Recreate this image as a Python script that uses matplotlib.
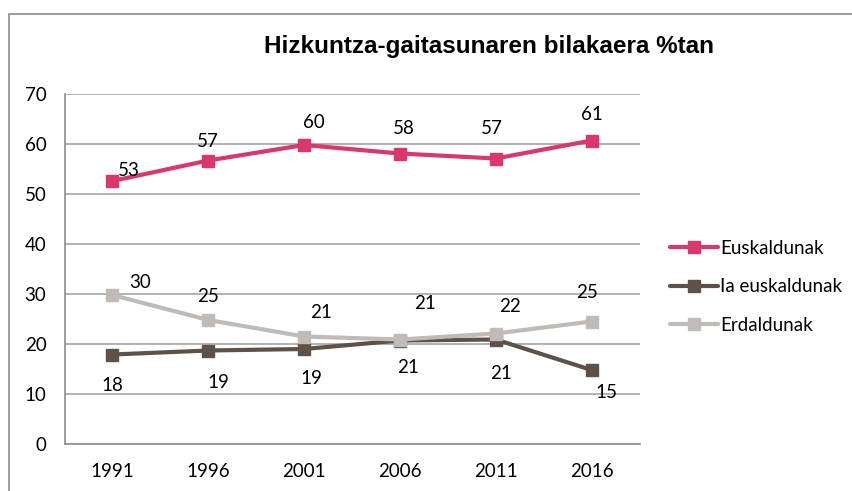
import matplotlib
matplotlib.use("Agg")
import matplotlib.pyplot as plt
from matplotlib.patches import Rectangle

plt.rcParams['font.family'] = ['Lato', 'DejaVu Sans']

# datuak
urteak = ["1991", "1996", "2001", "2006", "2011", "2016"]
euskaldunak = [52.6, 56.7, 59.8, 58.1, 57.1, 60.7]
ia_euskaldunak = [17.9, 18.7, 19.0, 20.7, 20.9, 14.8]
erdaldunak = [29.8, 24.8, 21.5, 20.9, 22.1, 24.5]
eusk_etiketak = [53, 57, 60, 58, 57, 61]
ia_etiketak = [18, 19, 19, 21, 21, 15]
erd_etiketak = [30, 25, 21, 21, 22, 25]

# etiketen desplazamenduak (pixeletan)
eusk_off = [(16, 11), (0, 19), (10, 22), (4, 25), (-4, 30), (0, 26)]
ia_off = [(0, -31), (10, -32), (7, -30), (8, -27), (5, -34), (15, -22)]
erd_off = [(28, 12), (0, 24), (17, 24), (25, 36), (14, 27), (-5, 29)]

kolore_eusk = "#D9376E"
kolore_ia = "#5E5248"
kolore_erd = "#C0BBB7"

W, H = 852, 491
fig = plt.figure(figsize=(W / 100, H / 100), dpi=100)

# kanpoko markoa
fig.patches.append(Rectangle((8.5 / W, -0.1), 1.2, 1.1 - 13.5 / H,
                             transform=fig.transFigure, fill=False,
                             edgecolor="#8C8C8C", linewidth=1.2))

ax = fig.add_axes([64.5 / W, (H - 444) / H, 575 / W, 350 / H])
x = [i + 0.5 for i in range(len(urteak))]

series = [
    (euskaldunak, eusk_etiketak, eusk_off, kolore_eusk, "Euskaldunak"),
    (ia_euskaldunak, ia_etiketak, ia_off, kolore_ia, "Ia euskaldunak"),
    (erdaldunak, erd_etiketak, erd_off, kolore_erd, "Erdaldunak"),
]
for balioak, etiketak, offs, kol, izena in series:
    ax.plot(x, balioak, color=kol, linewidth=3, marker="s", markersize=8,
            label=izena, solid_capstyle="round")
for balioak, etiketak, offs, kol, izena in series:
    for xi, yi, lab, off in zip(x, balioak, etiketak, offs):
        ax.annotate(str(lab), (xi, yi), xytext=off, textcoords="offset pixels",
                    ha="center", va="center", fontsize=13.5, color="black")

ax.set_xlim(0, 6)
ax.set_ylim(0, 70)
ax.set_yticks(range(0, 71, 10))
ax.set_xticks(x)
ax.set_xticklabels(urteak)
ax.grid(axis="y", color="#A6A6A6", linewidth=1.2)
ax.set_axisbelow(True)
for s in ["top", "right"]:
    ax.spines[s].set_visible(False)
ax.spines["left"].set_color("#8C8C8C")
ax.spines["bottom"].set_color("#8C8C8C")
ax.spines["left"].set_linewidth(1.2)
ax.spines["bottom"].set_linewidth(1.2)
ax.tick_params(length=0, labelsize=13.5, pad=13)
ax.tick_params(axis="x", pad=14)

fig.text(489 / W, 1 - 47 / H, "Hizkuntza-gaitasunaren bilakaera %tan",
         ha="center", va="center", fontsize=17.5, fontweight="bold",
         family=["Liberation Sans", "DejaVu Sans"])

leg = ax.legend(loc="upper left", bbox_to_anchor=(662 / W, 1 - 232 / H),
                bbox_transform=fig.transFigure, frameon=False, fontsize=13.5,
                handlelength=2.6, handletextpad=0.1, labelspacing=1.15,
                borderaxespad=0)

fig.savefig("out.png", dpi=100)
